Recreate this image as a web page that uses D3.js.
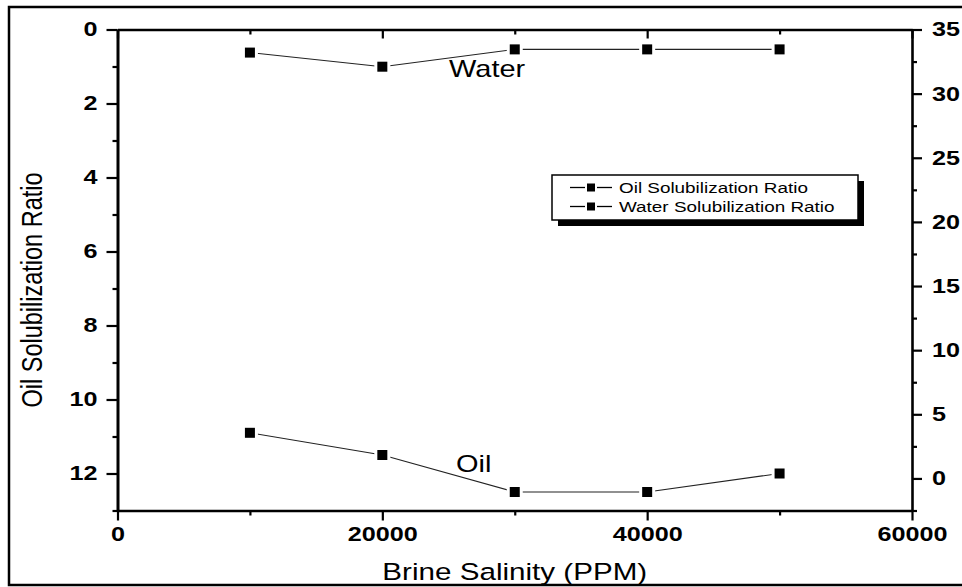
<!DOCTYPE html>
<html>
<head>
<meta charset="utf-8">
<script src="https://cdn.jsdelivr.net/npm/d3@7"></script>
<style>
  html, body { margin: 0; padding: 0; background: #fff; }
  svg { display: block; }
  text { font-family: Arial, "Liberation Sans", sans-serif; fill: #000; }
</style>
</head>
<body>
<svg id="chart" width="962" height="587"></svg>
<script>
// Brine salinity (ppm) of each sample
const salinity = [10000, 20000, 30000, 40000, 50000];
// Oil solubilization ratio (left axis, reversed)
const oilRatio = [10.9, 11.5, 12.5, 12.5, 12.0];
// Water solubilization ratio (right axis)
const waterRatio = [33.2, 32.1, 33.45, 33.45, 33.45];

const xTicks = [0, 20000, 40000, 60000];
const xMinorTicks = [10000, 30000, 50000];
const leftTicks = [0, 2, 4, 6, 8, 10, 12];
const leftMinorTicks = [1, 3, 5, 7, 9, 11, 13];
const rightTicks = [0, 5, 10, 15, 20, 25, 30, 35];
const rightMinorTicks = [-2.5, 2.5, 7.5, 12.5, 17.5, 22.5, 27.5, 32.5];

const seriesNames = ["Oil Solubilization Ratio", "Water Solubilization Ratio"];
const xTitle = "Brine Salinity (PPM)";
const yTitle = "Oil Solubilization Ratio";

// horizontal stretch applied to all lettering
const SX = 1.26;

const svg = d3.select("#chart");
const plot = { left: 117.5, right: 912, top: 29.5, bottom: 510.5 };

const x = d3.scaleLinear().domain([0, 60000]).range([plot.left, plot.right]);
const yL = d3.scaleLinear().domain([0, 13]).range([plot.top, plot.bottom]);
const yR = d3.scaleLinear().domain([-2.5, 35]).range([plot.bottom, plot.top]);

// outer frame
svg.append("rect")
  .attr("x", 9).attr("y", 7)
  .attr("width", 962).attr("height", 578)
  .attr("fill", "none").attr("stroke", "#000").attr("stroke-width", 2.5);

// stretch text elements horizontally about their anchor point
function stretch(sel) {
  sel.each(function () {
    const t = d3.select(this);
    const tx = +t.attr("x") || 0, ty = +t.attr("y") || 0;
    t.attr("x", 0).attr("y", 0)
     .attr("transform", `translate(${tx},${ty}) scale(${SX},1)`);
  });
}

function styleAxis(g, w) {
  g.select(".domain").attr("stroke", "#000").attr("stroke-width", w);
  g.selectAll(".tick line").attr("stroke", "#000").attr("stroke-width", 2.2);
  g.selectAll(".tick text")
    .attr("font-size", 20).attr("font-weight", "bold")
    .attr("font-family", "Arial, 'Liberation Sans', sans-serif")
    .attr("fill", "#000");
}

const fmt = d3.format("d");

// left axis (reversed)
const gL = svg.append("g").attr("transform", `translate(${plot.left},0)`)
  .call(d3.axisLeft(yL).tickValues(leftTicks).tickSize(11).tickPadding(9).tickSizeOuter(0).tickFormat(fmt));
styleAxis(gL, 3);
svg.append("g").attr("transform", `translate(${plot.left},0)`)
  .call(d3.axisLeft(yL).tickValues(leftMinorTicks).tickSize(5).tickSizeOuter(0).tickFormat(""))
  .call(g => { g.select(".domain").remove(); g.selectAll("line").attr("stroke", "#000").attr("stroke-width", 2.2); });

// bottom axis
const gB = svg.append("g").attr("transform", `translate(0,${plot.bottom})`)
  .call(d3.axisBottom(x).tickValues(xTicks).tickSize(10).tickPadding(6).tickSizeOuter(0).tickFormat(fmt));
styleAxis(gB, 2.6);
svg.append("g").attr("transform", `translate(0,${plot.bottom})`)
  .call(d3.axisBottom(x).tickValues(xMinorTicks).tickSize(5).tickSizeOuter(0).tickFormat(""))
  .call(g => { g.select(".domain").remove(); g.selectAll("line").attr("stroke", "#000").attr("stroke-width", 2.2); });

// top axis, ticks pointing inward
const gT = svg.append("g").attr("transform", `translate(0,${plot.top})`)
  .call(d3.axisTop(x).tickValues(xTicks).tickSize(-9).tickSizeOuter(0).tickFormat(""));
styleAxis(gT, 2.4);
svg.append("g").attr("transform", `translate(0,${plot.top})`)
  .call(d3.axisTop(x).tickValues(xMinorTicks).tickSize(-5).tickSizeOuter(0).tickFormat(""))
  .call(g => { g.select(".domain").remove(); g.selectAll("line").attr("stroke", "#000").attr("stroke-width", 2.2); });

// right axis
const gR = svg.append("g").attr("transform", `translate(${plot.right},0)`)
  .call(d3.axisRight(yR).tickValues(rightTicks).tickSize(10).tickPadding(10).tickSizeOuter(0).tickFormat(fmt));
styleAxis(gR, 2.6);
svg.append("g").attr("transform", `translate(${plot.right},0)`)
  .call(d3.axisRight(yR).tickValues(rightMinorTicks).tickSize(5).tickSizeOuter(0).tickFormat(""))
  .call(g => { g.select(".domain").remove(); g.selectAll("line").attr("stroke", "#000").attr("stroke-width", 2.2); });

[gL, gB, gR].forEach(g => stretch(g.selectAll(".tick text")));

// series
const oilPts = salinity.map((s, i) => [x(s), yL(oilRatio[i])]);
const waterPts = salinity.map((s, i) => [x(s), yR(waterRatio[i])]);
const line = d3.line();

[oilPts, waterPts].forEach(pts => {
  svg.append("path").attr("d", line(pts))
    .attr("fill", "none").attr("stroke", "#222").attr("stroke-width", 1.1);
});

function markers(pts) {
  const g = svg.append("g");
  g.selectAll("rect.halo").data(pts).join("rect").attr("class", "halo")
    .attr("x", d => d[0] - 8).attr("y", d => d[1] - 8)
    .attr("width", 16).attr("height", 16).attr("fill", "#fff");
  g.selectAll("rect.mk").data(pts).join("rect").attr("class", "mk")
    .attr("x", d => d[0] - 5).attr("y", d => d[1] - 5)
    .attr("width", 10).attr("height", 10).attr("fill", "#000");
}
markers(oilPts);
markers(waterPts);

// in-plot series labels
stretch(svg.append("text").attr("x", 449).attr("y", 77)
  .attr("font-size", 23).text("Water"));
stretch(svg.append("text").attr("x", 456).attr("y", 472)
  .attr("font-size", 23).text("Oil"));

// axis titles
stretch(svg.append("text").attr("x", (plot.left + plot.right) / 2).attr("y", 580)
  .attr("text-anchor", "middle").attr("font-size", 23.5).text(xTitle));
svg.append("text")
  .attr("transform", `translate(41.5,290) scale(${SX},1) rotate(-90)`)
  .attr("text-anchor", "middle").attr("font-size", 23.5).text(yTitle);

// legend
const lg = { x: 552, y: 175, w: 306, h: 45 };
svg.append("rect").attr("x", lg.x + 6).attr("y", lg.y + 6)
  .attr("width", lg.w).attr("height", lg.h).attr("fill", "#000");
svg.append("rect").attr("x", lg.x).attr("y", lg.y)
  .attr("width", lg.w).attr("height", lg.h)
  .attr("fill", "#fff").attr("stroke", "#000").attr("stroke-width", 1.5);

const rowY = [187.5, 206.5];
seriesNames.forEach((name, i) => {
  const cy = rowY[i];
  svg.append("line").attr("x1", 570).attr("x2", 585).attr("y1", cy).attr("y2", cy)
    .attr("stroke", "#000").attr("stroke-width", 1.3);
  svg.append("line").attr("x1", 597).attr("x2", 612).attr("y1", cy).attr("y2", cy)
    .attr("stroke", "#000").attr("stroke-width", 1.3);
  svg.append("rect").attr("x", 587).attr("y", cy - 4).attr("width", 8).attr("height", 8).attr("fill", "#000");
  stretch(svg.append("text").attr("x", 619).attr("y", cy + 5.5)
    .attr("font-size", 15).text(name));
});
</script>
</body>
</html>
